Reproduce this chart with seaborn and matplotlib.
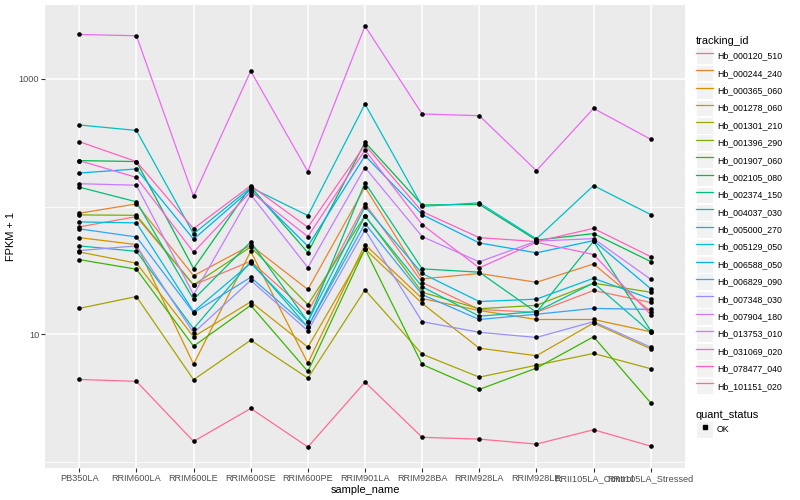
import numpy as np
import pandas as pd
import matplotlib
matplotlib.use("Agg")
import matplotlib.pyplot as plt
import seaborn as sns
from matplotlib.lines import Line2D
from matplotlib.patches import Rectangle
from matplotlib.ticker import FixedLocator, NullFormatter, FixedFormatter
from matplotlib.legend_handler import HandlerTuple

# ---------------- data ----------------
samples = ["PB350LA", "RRIM600LA", "RRIM600LE", "RRIM600SE", "RRIM600PE",
           "RRIM901LA", "RRIM928BA", "RRIM928LA", "RRIM928LE",
           "RRII105LA_Control", "RRII105LA_Stressed"]

tracking_ids = ["Hb_000120_510", "Hb_000244_240", "Hb_000365_060", "Hb_001278_060",
                "Hb_001301_210", "Hb_001396_290", "Hb_001907_060", "Hb_002105_080",
                "Hb_002374_150", "Hb_004037_030", "Hb_005000_270", "Hb_005129_050",
                "Hb_006588_050", "Hb_006829_090", "Hb_007348_030", "Hb_007904_180",
                "Hb_013753_010", "Hb_031069_020", "Hb_078477_040", "Hb_101151_020"]

hb_000120_510 = [69.4, 83.5, 24.4, 37.4, 14.9, 105.5, 25.5, 15.7, 14.9, 22.1, 17.8]
hb_000244_240 = [88.7, 105, 28.8, 49.9, 22.5, 142, 27.2, 30.0, 25.6, 35.6, 15.1]
hb_000365_060 = [57.2, 50.5, 5.86, 44.7, 5.97, 50.5, 19.1, 15.4, 13.1, 13.1, 10.5]
hb_001278_060 = [44.2, 36.1, 9.6, 18.0, 7.96, 46.7, 17.5, 7.82, 6.82, 12.3, 7.73]
hb_001301_210 = [16.0, 19.8, 4.43, 9.02, 4.56, 22.3, 7.02, 4.64, 5.75, 7.11, 5.40]
hb_001396_290 = [86.1, 85.5, 24.4, 48.4, 17.1, 85.1, 21.4, 15.9, 16.9, 25.2, 21.4]
hb_001907_060 = [38.5, 32.4, 8.1, 16.9, 5.14, 46.7, 5.83, 3.72, 5.46, 9.6, 2.92]
hb_002105_080 = [229, 225, 32.8, 143, 43.7, 318, 103, 104, 54.7, 61.5, 37.2]
hb_002374_150 = [142, 109, 18.8, 53.0, 12.6, 154, 32.6, 30.7, 14.9, 53.6, 10.7]
hb_004037_030 = [49.3, 44.7, 11.1, 37.2, 11.4, 84.0, 23.6, 13.9, 15.1, 25.3, 10.4]
hb_005000_270 = [435, 394, 61.2, 141, 85.1, 634, 100.5, 107, 55.9, 146, 86.6]
hb_005129_050 = [75.9, 74.6, 15.1, 36.1, 12.6, 100, 30.0, 18.1, 18.9, 27.5, 19.0]
hb_006588_050 = [183, 197, 55.6, 136, 49.0, 250, 86.6, 52.0, 43.5, 54.2, 22.8]
hb_006829_090 = [67.0, 57.9, 14.8, 28.0, 11.5, 73.6, 20.5, 13.1, 14.4, 16.0, 15.7]
hb_007348_030 = [45.3, 49.3, 10.3, 26.5, 10.7, 65.8, 12.6, 10.4, 9.48, 12.6, 7.96]
hb_007904_180 = [151, 147, 20.5, 124, 33.4, 202, 58.3, 37.0, 53.7, 56.2, 27.0]
hb_013753_010 = [2218, 2168, 120, 1148, 188, 2582, 530, 514, 191, 586, 336]
hb_031069_020 = [229, 169, 44.0, 131, 58.3, 277, 72.3, 33.2, 52.6, 42.2, 14.3]
hb_078477_040 = [322, 225, 67.3, 146, 68.9, 303, 91.4, 57.2, 53.3, 67.6, 40.6]
hb_101151_020 = [4.45, 4.30, 1.46, 2.64, 1.32, 4.24, 1.57, 1.52, 1.39, 1.80, 1.34]

series_values = [hb_000120_510, hb_000244_240, hb_000365_060, hb_001278_060,
                 hb_001301_210, hb_001396_290, hb_001907_060, hb_002105_080,
                 hb_002374_150, hb_004037_030, hb_005000_270, hb_005129_050,
                 hb_006588_050, hb_006829_090, hb_007348_030, hb_007904_180,
                 hb_013753_010, hb_031069_020, hb_078477_040, hb_101151_020]

colors = ["#F8766D", "#EA8331", "#D89000", "#C09B00", "#A3A500", "#7CAE00",
          "#39B600", "#00BB4E", "#00BF7D", "#00C1A3", "#00BFC4", "#00BAE0",
          "#00B0F6", "#35A2FF", "#9590FF", "#C77CFF", "#E76BF3", "#FA62DB",
          "#FF62BC", "#FF6C91"]

quant_status = "OK"

rows = []
for tid, vals in zip(tracking_ids, series_values):
    for s, v in zip(samples, vals):
        rows.append({"tracking_id": tid, "sample_name": s, "fpkm1": v,
                     "quant_status": quant_status})
df = pd.DataFrame(rows)

# ---------------- style ----------------
plt.rcParams["font.family"] = ["Liberation Sans", "DejaVu Sans"]

fig = plt.figure(figsize=(8, 5), dpi=100)
ax = fig.add_axes([45 / 800, 1 - 468 / 500, 640 / 800, 463 / 500])

palette = dict(zip(tracking_ids, colors))
sns.lineplot(data=df, x="sample_name", y="fpkm1", hue="tracking_id",
             hue_order=tracking_ids, palette=palette, estimator=None,
             sort=False, legend=False, linewidth=0.9, ax=ax, zorder=2)
sns.scatterplot(data=df, x="sample_name", y="fpkm1", color="black", s=11,
                marker="o", linewidth=0, legend=False, ax=ax, zorder=3)

ax.set_yscale("log")
lo = np.log10(df["fpkm1"].min())
hi = np.log10(df["fpkm1"].max())
pad = 0.05 * (hi - lo)
ax.set_ylim(10 ** (lo - pad), 10 ** (hi + pad))
ax.set_xlim(-0.6, len(samples) - 0.4)

ax.yaxis.set_major_locator(FixedLocator([10, 1000]))
ax.yaxis.set_major_formatter(FixedFormatter(["10", "1000"]))
ax.yaxis.set_minor_locator(FixedLocator([1, 100, 10000]))
ax.yaxis.set_minor_formatter(NullFormatter())

ax.set_facecolor("#EBEBEB")
ax.set_axisbelow(True)
ax.grid(which="major", color="white", linewidth=1.1)
ax.grid(which="minor", axis="y", color="white", linewidth=0.55)
for sp in ax.spines.values():
    sp.set_visible(False)
ax.tick_params(which="major", length=2.7, width=0.8, color="#333333",
               labelcolor="#4D4D4D", labelsize=6.6, pad=1.5)
ax.tick_params(which="minor", length=0)

ax.set_xlabel("sample_name", fontsize=7.9, color="black", labelpad=1.5)
ax.set_ylabel("FPKM + 1", fontsize=7.9, color="black", labelpad=2)

# ---------------- legends ----------------
key_bg = dict(facecolor="#F2F2F2", edgecolor="white", linewidth=0.8)
handles = [(Rectangle((0, 0), 1, 1, **key_bg), Line2D([], [], color=c, lw=0.9))
           for c in colors]
leg1 = fig.legend(handles, tracking_ids, title="tracking_id", loc="upper left",
                  bbox_to_anchor=(696 / 800, 1 - 36 / 500), frameon=False,
                  fontsize=6.3, title_fontsize=7.9, handlelength=1.95,
                  handleheight=2.55, labelspacing=0.085, handletextpad=0.45,
                  borderpad=0, borderaxespad=0, alignment="left",
                  handler_map={tuple: HandlerTuple(ndivide=1, pad=0)})
leg1._legend_box.sep = 1

ok_handle = (Rectangle((0, 0), 1, 1, **key_bg),
             Line2D([], [], color="black", marker="s", ls="", markersize=2.3))
leg2 = fig.legend([ok_handle], [quant_status], title="quant_status",
                  loc="upper left", bbox_to_anchor=(696 / 800, 1 - 410 / 500),
                  frameon=False, fontsize=6.3, title_fontsize=7.9,
                  handlelength=1.95, handleheight=2.55, handletextpad=0.45,
                  borderpad=0, borderaxespad=0, alignment="left",
                  handler_map={tuple: HandlerTuple(ndivide=1, pad=0)})
leg2._legend_box.sep = 1

fig.savefig("out.png", dpi=100)
